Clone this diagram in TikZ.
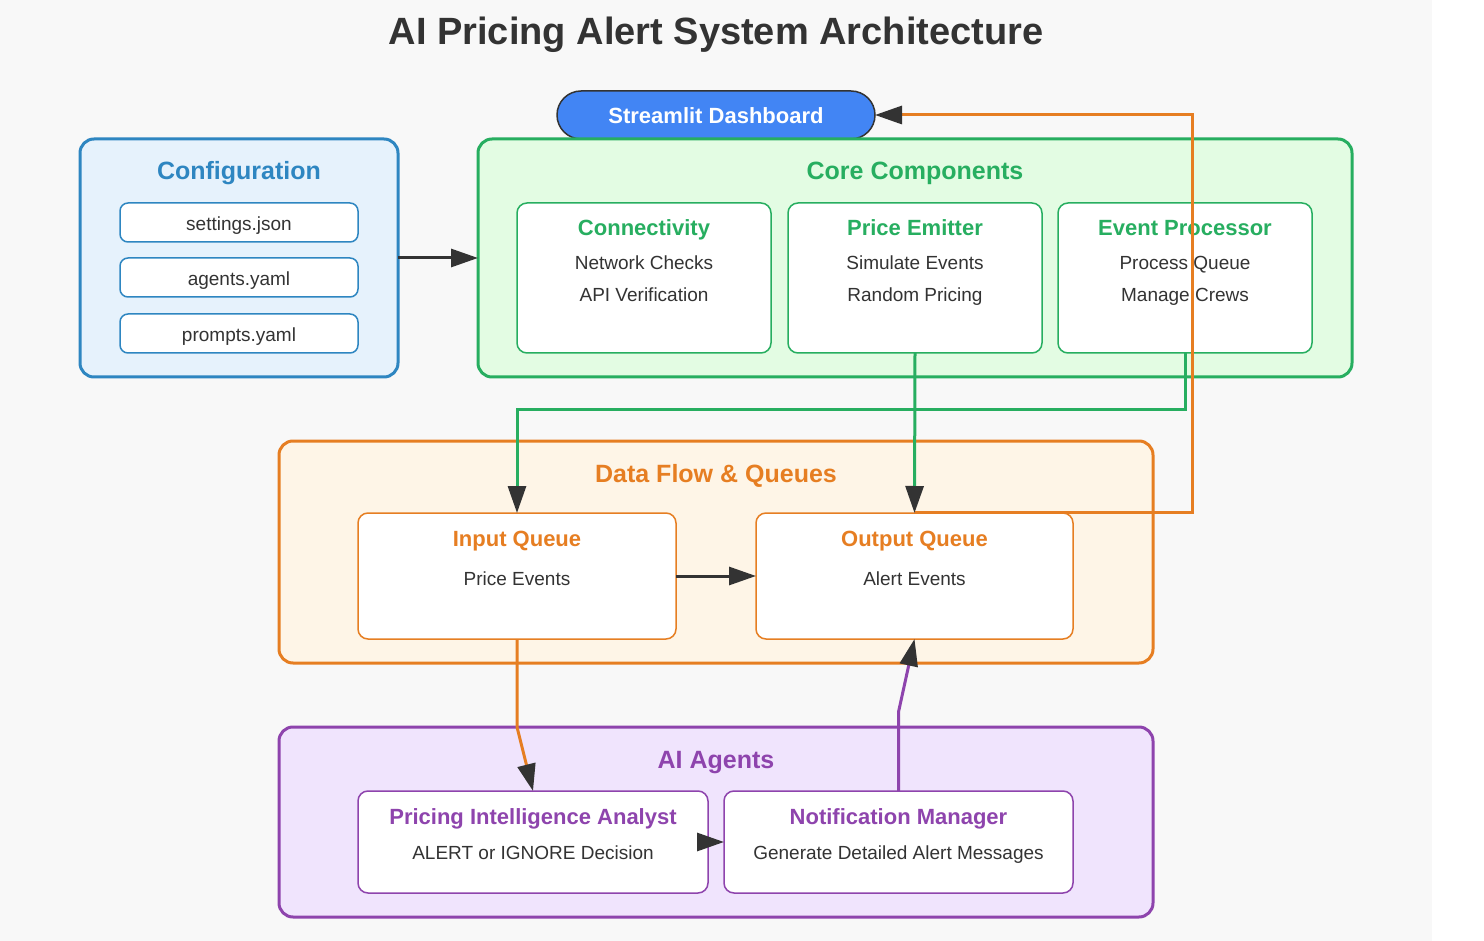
\documentclass[tikz,border=0pt]{standalone}
\usepackage{fontspec}
\setmainfont{Liberation Sans}
\usetikzlibrary{arrows.meta}
\definecolor{bgc}{HTML}{F8F8F8}
\definecolor{darkc}{HTML}{333333}
\definecolor{configc}{HTML}{2E86C1}
\definecolor{configf}{HTML}{E6F2FC}
\definecolor{corec}{HTML}{27AE60}
\definecolor{coref}{HTML}{E3FCE3}
\definecolor{datac}{HTML}{E67E22}
\definecolor{dataf}{HTML}{FEF5E7}
\definecolor{aic}{HTML}{8E44AD}
\definecolor{aif}{HTML}{F0E4FD}
\definecolor{dashc}{HTML}{4285F4}
\begin{document}
\begin{tikzpicture}[x=1pt,y=-1pt,
  box/.style={draw, rounded corners=14pt, line width=3pt, inner sep=0pt, outer sep=0pt},
  ibox/.style={draw, fill=white, rounded corners=10pt, line width=1.5pt, inner sep=0pt, outer sep=0pt},
  sect/.style={font=\fontsize{25}{30}\selectfont\bfseries, anchor=base, inner sep=0pt},
  btitle/.style={font=\fontsize{22}{26}\selectfont\bfseries, anchor=base, inner sep=0pt},
  body/.style={font=\fontsize{19}{23}\selectfont, text=darkc, anchor=base, inner sep=0pt},
  conn/.style={line width=3pt, -{Triangle[length=27pt,width=18pt,color=darkc]}},
]
\useasboundingbox (0,0) rectangle (1484,941);
\fill[white] (0,0) rectangle (1484,941);
\fill[bgc] (0,0) rectangle (1432,941);

% title
\node[anchor=base, inner sep=0pt, text=darkc, font=\fontsize{38}{44}\selectfont\bfseries] (title) at (716,45) {AI Pricing Alert System Architecture};

% dashboard
\node[draw=darkc, fill=dashc, line width=1.5pt, rounded corners=24pt, minimum width=318pt, minimum height=48pt, inner sep=0pt, outer sep=0pt] (dash) at (716,115) {};
\node[anchor=base, inner sep=0pt, text=white, font=\fontsize{22}{26}\selectfont\bfseries] (tdash) at (716,124) {Streamlit Dashboard};

% configuration
\node[box, draw=configc, fill=configf, minimum width=318pt, minimum height=238pt] (config) at (239,258) {};
\node[sect, text=configc] (tconfig) at (239,180) {Configuration};
\node[ibox, draw=configc, rounded corners=8pt, minimum width=238pt, minimum height=39pt] (settings) at (239,222.5) {};
\node[body] (tsettings) at (239,230.5) {settings.json};
\node[ibox, draw=configc, rounded corners=8pt, minimum width=238pt, minimum height=39pt] (agents) at (239,277.5) {};
\node[body] (tagents) at (239,285.5) {agents.yaml};
\node[ibox, draw=configc, rounded corners=8pt, minimum width=238pt, minimum height=39pt] (prompts) at (239,333.5) {};
\node[body] (tprompts) at (239,341.5) {prompts.yaml};

% core components
\node[box, draw=corec, fill=coref, minimum width=874pt, minimum height=238pt] (core) at (915,258) {};
\node[sect, text=corec] (tcore) at (915,180) {Core Components};
\node[ibox, draw=corec, minimum width=254pt, minimum height=150pt] (connb) at (644,278) {};
\node[btitle, text=corec] (tconnb) at (644,236) {Connectivity};
\node[body] (tconnb1) at (644,270) {Network Checks};
\node[body] (tconnb2) at (644,302) {API Verification};
\node[ibox, draw=corec, minimum width=254pt, minimum height=150pt] (pe) at (915,278) {};
\node[btitle, text=corec] (tpe) at (915,236) {Price Emitter};
\node[body] (tpe1) at (915,270) {Simulate Events};
\node[body] (tpe2) at (915,302) {Random Pricing};
\node[ibox, draw=corec, minimum width=254pt, minimum height=150pt] (evp) at (1185,278) {};
\node[btitle, text=corec] (tevp) at (1185,236) {Event Processor};
\node[body] (tevp1) at (1185,270) {Process Queue};
\node[body] (tevp2) at (1185,302) {Manage Crews};

% data flow
\node[box, draw=datac, fill=dataf, minimum width=874pt, minimum height=222pt] (data) at (716,552) {};
\node[sect, text=datac] (tdata) at (716,482) {Data Flow \& Queues};
\node[ibox, draw=datac, minimum width=318pt, minimum height=126pt] (inq) at (517,576) {};
\node[btitle, text=datac] (tinq) at (517,546) {Input Queue};
\node[body] (tinq1) at (517,585) {Price Events};
\node[ibox, draw=datac, minimum width=317pt, minimum height=126pt] (outq) at (914.5,576) {};
\node[btitle, text=datac] (toutq) at (914.5,546) {Output Queue};
\node[body] (toutq1) at (914.5,585) {Alert Events};

% AI agents
\node[box, draw=aic, fill=aif, minimum width=874pt, minimum height=190pt] (ai) at (716,822) {};
\node[sect, text=aic] (tai) at (716,768) {AI Agents};
\node[ibox, draw=aic, minimum width=350pt, minimum height=102pt] (ana) at (533,842) {};
\node[btitle, text=aic] (tana) at (533,824) {Pricing Intelligence Analyst};
\node[body] (tana1) at (533,859) {ALERT or IGNORE Decision};
\node[ibox, draw=aic, minimum width=349pt, minimum height=102pt] (notif) at (898.5,842) {};
\node[btitle, text=aic] (tnotif) at (898.5,824) {Notification Manager};
\node[body] (tnotif1) at (898.5,859) {Generate Detailed Alert Messages};

% connectors
\draw[conn, darkc] (config.east) -- (core.west);
\draw[conn, corec] (evp.south) -- ++(0,56) -| (inq.north);
\draw[conn, corec] (pe.south) -- (outq.north);
\draw[conn, datac] ([yshift=1pt]outq.north) -- ++(278,0) |- (dash.east);
\draw[conn, darkc] (inq.east) -- (outq.west);
\draw[conn, datac] (inq.south) -- ++(0,88) -- (ana.north);
\draw[conn, aic] (notif.north) -- ++(0,-79) -- (outq.south);
\draw[conn, darkc] (ana.east) -- (notif.west);
\end{tikzpicture}
\end{document}
